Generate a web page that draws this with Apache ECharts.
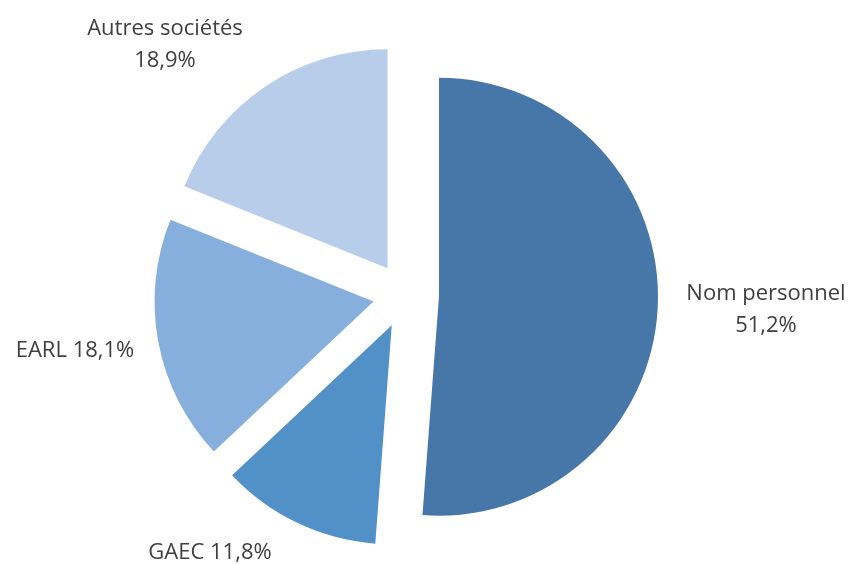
<!DOCTYPE html>
<html>
<head>
<meta charset="utf-8">
<script src="https://cdn.jsdelivr.net/npm/echarts@6/dist/echarts.min.js"></script>
<style>
  html, body { margin: 0; padding: 0; background: #fff; }
  #chart { width: 851px; height: 564px; }
</style>
</head>
<body>
<div id="chart"></div>
<script>
// Répartition des exploitations par forme juridique (%)
const categories = ['Nom personnel', 'GAEC', 'EARL', 'Autres sociétés'];
const shares = [51.2, 11.8, 18.1, 18.9];

const colors = ['#4677A8', '#5290C8', '#86AFDD', '#B8CDE9'];
// label text anchors (centre of each text block)
const labelAnchors = [[766, 310], [210, 553], [75, 351], [165, 45]];
const twoLine = [true, false, false, true];

const fmt = v => v.toFixed(1).replace('.', ',') + '%';
const labelText = i => twoLine[i]
  ? categories[i] + '\n' + fmt(shares[i])
  : categories[i] + ' ' + fmt(shares[i]);

const chart = echarts.init(document.getElementById('chart'), null, { renderer: 'canvas' });

chart.setOption({
  animation: false,
  backgroundColor: '#ffffff',
  series: [{
    type: 'pie',
    center: [406, 295.5],
    radius: [0, 219],
    startAngle: 90,
    clockwise: true,
    selectedMode: 'multiple',
    selectedOffset: 33,
    data: categories.map((name, i) => ({
      name,
      value: shares[i],
      selected: true,
      itemStyle: { color: colors[i] }
    })),
    itemStyle: { borderWidth: 0 },
    label: { show: false },
    labelLine: { show: false },
    emphasis: { disabled: true }
  }],
  // category labels with their share, placed outside each slice
  graphic: categories.map((name, i) => ({
    type: 'text',
    x: labelAnchors[i][0],
    y: labelAnchors[i][1],
    style: {
      text: labelText(i),
      fill: '#404040',
      font: '22px "Open Sans", "Liberation Sans", sans-serif',
      lineHeight: 32,
      textAlign: 'center',
      textVerticalAlign: 'middle'
    }
  }))
});
</script>
</body>
</html>
